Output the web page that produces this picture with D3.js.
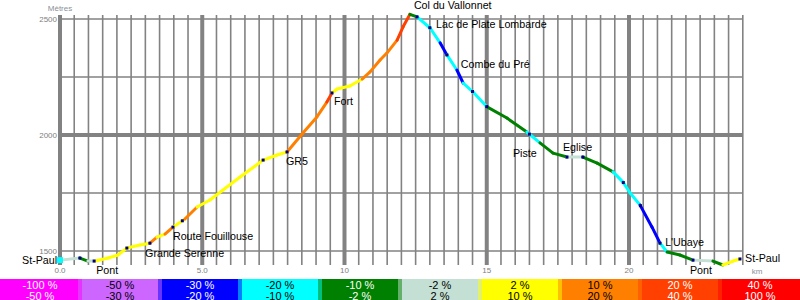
<!DOCTYPE html>
<html>
<head>
  <meta charset="utf-8">
  <title>Profil St-Paul - Col du Vallonnet</title>
  <style>
    body { margin: 0; background: #fff; }
    svg { display: block; font-family: Arial, "Liberation Sans", sans-serif; }
  </style>
</head>
<body>
  <div class="container"></div>

  <script src="https://d3js.org/d3.v7.min.js"></script>
  <script type="text/javascript">
    // profile: distance (km) and altitude (m)
    var km  = [0, 0.70, 0.98, 1.23, 1.69, 2.04, 2.35, 2.81, 3.16, 3.41, 3.69, 3.97, 4.39, 4.82, 5.27, 5.73,
               6.33, 7.14, 7.63, 7.98, 8.54, 9.03, 9.38, 9.56, 9.74, 10.19, 10.62, 10.90, 11.25, 11.49, 11.85,
               12.06, 12.30, 12.55, 13.01, 13.36, 13.60, 13.95, 14.17, 14.52, 15.01, 15.71, 16.41, 16.87, 17.33,
               17.82, 18.38, 18.88, 19.44, 19.79, 20.04, 20.39, 20.81, 21.09, 21.34, 21.79, 22.25, 22.95, 23.30,
               23.66, 23.90];
    var alt = [1461, 1470, 1457, 1457, 1470, 1483, 1513, 1526, 1534, 1560, 1573, 1603, 1638, 1690, 1720, 1763,
               1819, 1892, 1914, 1927, 2009, 2078, 2142, 2181, 2198, 2211, 2241, 2272, 2323, 2353, 2409,
               2466, 2520, 2509, 2461, 2397, 2345, 2280, 2224, 2185, 2121, 2073, 2013, 1966, 1922,
               1905, 1905, 1879, 1841, 1797, 1750, 1698, 1603, 1534, 1496, 1483, 1461, 1457, 1440,
               1457, 1466];

    // slope classes (legend)
    var slopeBreaks  = [-50, -30, -20, -10, -2, 2, 10, 20, 40];
    var legendColors = ["#ff00ff", "#cc66ff", "#0000ff", "#00ffff", "#008000", "#c4e0d4", "#ffff00", "#ff8000", "#ff4000", "#ff0000"];
    var legendFrom   = ["-100 %", "-50 %", "-30 %", "-20 %", "-10 %", "-2 %", "2 %", "10 %", "20 %", "40 %"];
    var legendTo     = ["-50 %", "-30 %", "-20 %", "-10 %", "-2 %", "2 %", "10 %", "20 %", "40 %", "100 %"];
    var legendText   = ["#fff", "#000", "#fff", "#000", "#fff", "#000", "#000", "#000", "#fff", "#fff"];

    // place names, anchored at (km, altitude)
    var labelNames  = ["St-Paul", "Pont", "Grande Serenne", "Route Fouillouse", "GR5", "Fort", "Col du Vallonnet",
                       "Lac de Plate Lombarde", "Combe du Pré", "Piste", "Eglise", "L'Ubaye", "Pont", "St-Paul"];
    var labelKm     = [-0.1, 1.27, 2.99, 3.97, 7.94, 9.63, 12.44, 13.22, 14.09, 15.92, 17.68, 21.27, 22.14, 24.08];
    var labelAlt    = [1443, 1401, 1474, 1547, 1871, 2129, 2543, 2461, 2289, 1905, 1931, 1522, 1401, 1452];

    // small waypoint squares along the track
    var markerKm = [0.7, 1.2, 2.35, 3.16, 3.97, 4.3, 7.14, 7.98, 9.56, 12.55, 13.0, 13.6, 14.5, 15.0, 16.5,
                    17.82, 18.38, 19.8, 20.4, 21.09, 22.25, 23.9];

    var xTicks = [0, 5, 10, 15, 20];
    var xTickLabels = ["0.0", "5.0", "10", "15", "20"];
    var yTicks = [1500, 2000, 2500];

    var width = 800, height = 300;

    var svg = d3.select(".container")
        .append("svg")
        .attr("width", width)
        .attr("height", height);

    var x = d3.scaleLinear().domain([0, 24]).range([60, 742.8]);
    var y = d3.scaleLinear().domain([1440, 2517]).range([265, 15]);

    var slopeColor = d3.scaleThreshold().domain(slopeBreaks).range(legendColors);

    // grid: every 0.5 km / 250 m, thick every 5 km and at 2000 m
    var grid = svg.append("g");
    d3.range(0, 24.01, 0.5).forEach(function(k) {
      grid.append("line")
          .attr("x1", x(k)).attr("x2", x(k))
          .attr("y1", y.range()[1]).attr("y2", y.range()[0])
          .attr("stroke", "#828282")
          .attr("stroke-width", k % 5 === 0 ? 4 : 1.6);
    });
    d3.range(1500, 2501, 250).forEach(function(a) {
      grid.append("line")
          .attr("x1", x(0)).attr("x2", x(24))
          .attr("y1", y(a)).attr("y2", y(a))
          .attr("stroke", "#828282")
          .attr("stroke-width", a === 2000 ? 4 : 1.6);
    });

    // axis labels
    svg.selectAll(".ytick")
        .data(yTicks)
        .enter()
        .append("text")
        .attr("x", x(0) - 3)
        .attr("y", function(d) { return y(d); })
        .attr("dy", "0.35em")
        .attr("text-anchor", "end")
        .attr("font-size", 8)
        .attr("fill", "#808080")
        .text(function(d) { return d; });

    svg.append("text")
        .attr("x", x(0))
        .attr("y", 11)
        .attr("text-anchor", "middle")
        .attr("font-size", 8)
        .attr("fill", "#8a8f99")
        .text("Mètres");

    svg.selectAll(".xtick")
        .data(xTicks)
        .enter()
        .append("text")
        .attr("x", function(d) { return x(d); })
        .attr("y", 273)
        .attr("text-anchor", "middle")
        .attr("font-size", 8)
        .attr("fill", "#808080")
        .text(function(d, i) { return xTickLabels[i]; });

    svg.append("text")
        .attr("x", x(24.5))
        .attr("y", 274)
        .attr("text-anchor", "middle")
        .attr("font-size", 8)
        .attr("fill", "#8a8f99")
        .text("km");

    // profile, each segment coloured by its slope
    var segs = d3.range(km.length - 1).map(function(i) {
      var slope = (alt[i + 1] - alt[i]) / ((km[i + 1] - km[i]) * 1000) * 100;
      return {i: i, slope: slope};
    });

    svg.append("g")
        .selectAll("line")
        .data(segs)
        .enter()
        .append("line")
        .attr("x1", function(d) { return x(km[d.i]); })
        .attr("y1", function(d) { return y(alt[d.i]); })
        .attr("x2", function(d) { return x(km[d.i + 1]); })
        .attr("y2", function(d) { return y(alt[d.i + 1]); })
        .attr("stroke", function(d) { return slopeColor(d.slope); })
        .attr("stroke-width", 3)
        .attr("stroke-linecap", "round");

    var altAt = d3.scaleLinear().domain(km).range(alt);

    svg.append("g")
        .selectAll("rect")
        .data(markerKm)
        .enter()
        .append("rect")
        .attr("x", function(d) { return x(d) - 1.5; })
        .attr("y", function(d) { return y(altAt(d)) - 1.5; })
        .attr("width", 3)
        .attr("height", 3)
        .attr("fill", "#000080");

    // start marker
    svg.append("rect")
        .attr("x", x(km[0]) - 3)
        .attr("y", y(alt[0]) - 3)
        .attr("width", 6)
        .attr("height", 6)
        .attr("fill", "#00ffff");

    // place names
    svg.selectAll(".place")
        .data(labelNames)
        .enter()
        .append("text")
        .attr("x", function(d, i) { return x(labelKm[i]); })
        .attr("y", function(d, i) { return y(labelAlt[i]); })
        .attr("text-anchor", function(d, i) { return i === 0 ? "end" : "start"; })
        .attr("font-size", 10.7)
        .attr("fill", "#000")
        .text(function(d) { return d; });

    // legend strip
    var lw = width / legendColors.length;
    var leg = svg.append("g").attr("transform", "translate(0,279)");

    leg.selectAll("rect.box")
        .data(legendColors)
        .enter()
        .append("rect")
        .attr("x", function(d, i) { return i * lw; })
        .attr("y", 0)
        .attr("width", lw)
        .attr("height", 21)
        .attr("fill", function(d) { return d; });

    // soft edge between two classes
    leg.selectAll("rect.edge")
        .data(legendColors.slice(1))
        .enter()
        .append("rect")
        .attr("x", function(d, i) { return (i + 1) * lw - 2; })
        .attr("y", 0)
        .attr("width", 4)
        .attr("height", 21)
        .attr("fill", function(d, i) { return d3.interpolateRgb(legendColors[i], d)(0.5); });

    leg.selectAll("text.from")
        .data(legendFrom)
        .enter()
        .append("text")
        .attr("x", function(d, i) { return i * lw + lw / 2; })
        .attr("y", 9.5)
        .attr("text-anchor", "middle")
        .attr("font-size", 11)
        .attr("fill", function(d, i) { return legendText[i]; })
        .text(function(d) { return d; });

    leg.selectAll("text.to")
        .data(legendTo)
        .enter()
        .append("text")
        .attr("x", function(d, i) { return i * lw + lw / 2; })
        .attr("y", 20.5)
        .attr("text-anchor", "middle")
        .attr("font-size", 11)
        .attr("fill", function(d, i) { return legendText[i]; })
        .text(function(d) { return d; });
  </script>
</body>
</html>
